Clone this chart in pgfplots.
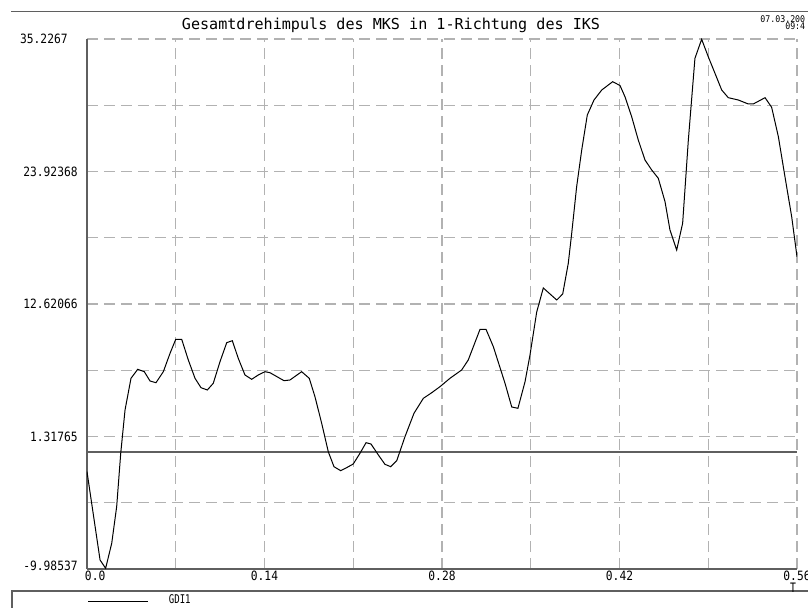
\documentclass[border=0pt]{standalone}
\usepackage{pgfplots}
\pgfplotsset{compat=1.18}
\usepackage{pgfplotstable}
\usepackage{fontspec}
\setmainfont{DejaVu Sans Mono}
\newfontfamily\titlefont{DejaVu Sans Mono}
\newfontfamily\tickfont[FakeStretch=0.88]{DejaVu Sans Mono}
\newfontfamily\legfont[FakeStretch=0.75]{DejaVu Sans Mono}
\newfontfamily\datefont[FakeStretch=0.9]{DejaVu Sans Mono}

\definecolor{axisgray}{RGB}{95,95,95}
\definecolor{gridgray}{RGB}{178,178,178}

% Gesamtdrehimpuls GDI1 over time T
\pgfplotstableread{
T      GDI1
0.0000 -1.685
0.0103 -9.218
0.0147 -9.926
0.0195 -7.793
0.0234 -4.671
0.0266 -0.115
0.0300 3.578
0.0347 6.283
0.0400 7.050
0.0452 6.845
0.0497 6.052
0.0544 5.907
0.0602 6.845
0.0655 8.415
0.0700 9.610
0.0747 9.610
0.0799 7.844
0.0852 6.283
0.0899 5.481
0.0949 5.285
0.0996 5.856
0.1049 7.699
0.1102 9.320
0.1146 9.490
0.1193 7.989
0.1246 6.564
0.1299 6.197
0.1351 6.564
0.1404 6.845
0.1443 6.760
0.1554 6.078
0.1601 6.138
0.1693 6.845
0.1753 6.283
0.1798 4.713
0.1851 2.444
0.1903 0.021
0.1948 -1.258
0.2001 -1.600
0.2053 -1.310
0.2100 -1.028
0.2153 -0.115
0.2201 0.789
0.2240 0.678
0.2298 -0.260
0.2350 -1.054
0.2395 -1.258
0.2443 -0.746
0.2508 1.301
0.2579 3.297
0.2653 4.576
0.2719 5.054
0.2784 5.566
0.2863 6.283
0.2955 6.991
0.3007 7.844
0.3100 10.463
0.3147 10.463
0.3205 8.978
0.3297 5.856
0.3350 3.834
0.3399 3.723
0.3455 5.993
0.3494 8.270
0.3547 11.938
0.3599 13.986
0.3705 12.962
0.3752 13.474
0.3796 16.093
0.3823 18.652
0.3862 22.627
0.3902 25.758
0.3946 28.744
0.3999 30.023
0.4060 30.876
0.4146 31.584
0.4204 31.260
0.4243 30.305
0.4296 28.599
0.4348 26.611
0.4401 24.905
0.4454 24.052
0.4506 23.344
0.4559 21.348
0.4598 18.934
0.4651 17.228
0.4698 19.505
0.4743 26.611
0.4795 33.580
0.4848 35.201
0.4900 33.717
0.4953 32.301
0.5006 30.876
0.5058 30.220
0.5137 30.023
0.5216 29.682
0.5255 29.682
0.5348 30.220
0.5400 29.401
0.5453 26.893
0.5505 23.480
0.5558 20.068
0.5600 16.656
}\gdione

\begin{document}
\begin{tikzpicture}
\path[use as bounding box] (0pt,0pt) rectangle (404pt,304pt);
% header rule, title and time stamp
\draw[axisgray, line width=0.75pt] (5.5pt,298.3pt) -- (404pt,298.3pt);
\node[font=\titlefont\fontsize{7.55}{8}\selectfont, inner sep=0pt] at (195.5pt,291.4pt)
  {Gesamtdrehimpuls des MKS in 1-Richtung des IKS};
\node[font=\datefont\fontsize{4.6}{5}\selectfont, inner sep=0pt, anchor=east] at (402.8pt,294.2pt) {07.03.200};
\node[font=\datefont\fontsize{4.6}{5}\selectfont, inner sep=0pt, anchor=east] at (402.8pt,291.1pt) {09:4};
% legend frame
\draw[axisgray, line width=0.75pt] (6pt,0pt) -- (6pt,8.5pt) -- (404pt,8.5pt);
\begin{axis}[
  at={(43.5pt,19.5pt)}, anchor=south west,
  scale only axis, width=355pt, height=265pt,
  xmin=0, xmax=0.56, ymin=-9.98537, ymax=35.2267,
  axis x line*=bottom, axis y line*=left,
  axis line style={-, draw=axisgray, line width=0.65pt},
  xtick={0,0.07,0.14,0.21,0.28,0.35,0.42,0.49,0.56},
  xticklabels={{\makebox[0pt][l]{\hspace{-1pt}0.0}},,0.14,,0.28,,0.42,,0.56},
  ytick={-9.98537,-4.33386,1.31765,6.96916,12.62066,18.27217,23.92368,29.57519,35.2267},
  yticklabels={{\raisebox{3pt}{-9.98537}},,1.31765,,12.62066,,23.92368,,{\raisebox{-3pt}{35.2267\kern5pt}}},
  major tick length=0pt,
  tick label style={font=\tickfont\fontsize{6.4}{7}\selectfont, inner sep=0pt},
  yticklabel style={anchor=east, xshift=-4.5pt},
  xticklabel style={anchor=north, yshift=-0.8pt},
  grid=major,
  major grid style={dash pattern=on 5.5pt off 3pt, draw=gridgray, line width=0.65pt},
  extra y ticks={0},
  extra y tick labels={},
  extra y tick style={major grid style={solid, draw=axisgray, line width=0.75pt}},
  xlabel={T},
  xlabel style={at={(axis description cs:0.9944,-0.036)}, anchor=center, inner sep=0pt,
    font=\legfont\fontsize{6.5}{7}\selectfont},
  legend style={at={(axis description cs:0.0014,-0.0604)}, anchor=west, draw=none, fill=none,
    inner sep=0pt, outer sep=0pt, nodes={inner sep=0pt, font=\legfont\fontsize{6}{7}\selectfont}},
  legend image code/.code={\draw[#1] (0pt,0pt) -- (30pt,0pt); \path (40pt,0pt);},
]
\addplot[black, line width=0.5pt] table[x=T, y=GDI1] {\gdione};
\addlegendentry{GDI1}
\end{axis}
\end{tikzpicture}
\end{document}
